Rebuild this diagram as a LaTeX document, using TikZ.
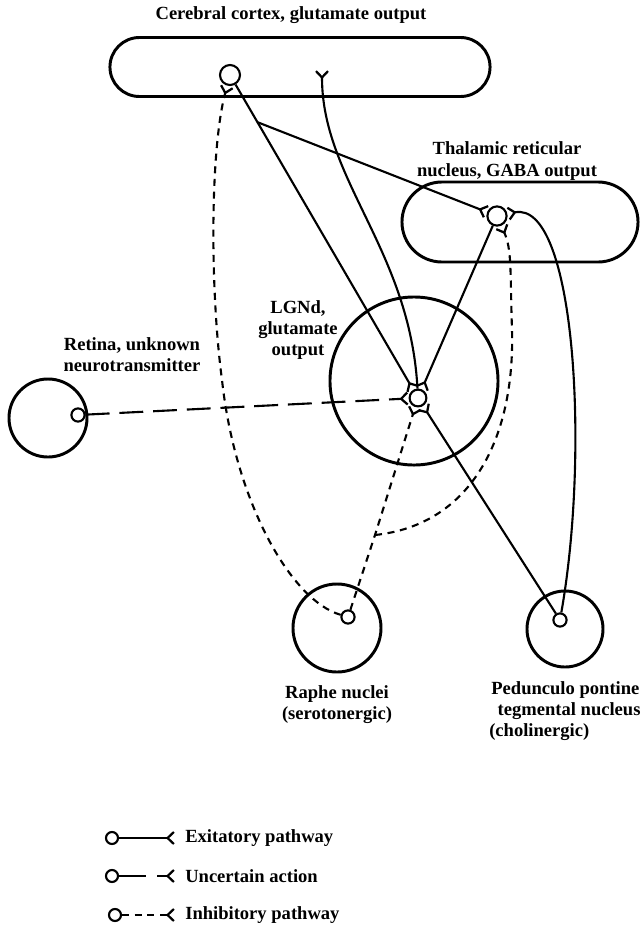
\documentclass[tikz,border=0pt]{standalone}
\usepackage{fontspec}
\setmainfont{Liberation Serif}
\usetikzlibrary{arrows.meta}
\usetikzlibrary{shapes.misc}
\usetikzlibrary{positioning}
\tikzset{area/.style={draw, line width=2.1pt, inner sep=0pt}}
\tikzset{nucleus/.style={area, circle}}
\tikzset{band/.style={area, rounded rectangle}}
\tikzset{cell/.style={circle, draw, line width=1.5pt, fill=white, inner sep=0pt, minimum size=#1}}
\tikzset{lbl/.style={font=\fontsize{13.2}{15}\selectfont\bfseries, align=center, inner sep=0pt}}
\tikzset{exc/.style={line width=1.5pt, -{Straight Barb[reversed,length=4.5pt,width=8.5pt,line width=1.6pt]}}}
\tikzset{unc/.style={exc, dash pattern=on 17pt off 7pt}}
\tikzset{inh/.style={exc, dash pattern=on 5pt off 4pt}}

\begin{document}
\begin{tikzpicture}[x=0.025cm, y=-0.025cm]
\useasboundingbox (0,0) rectangle (640,929);

% regions
\node[band, minimum width=9.5cm, minimum height=1.475cm] (cortex) at (300,67) {};
\node[band, minimum width=5.9cm, minimum height=2cm] (trn) at (520,222) {};
\node[nucleus, minimum size=4.2cm] (lgn) at (414,381) {};
\node[nucleus, minimum size=1.95cm] (retina) at (48,418) {};
\node[nucleus, minimum size=2.2cm] (raphe) at (337,628) {};
\node[nucleus, minimum size=1.9cm] (ppt) at (565,629) {};

% labels
\node[lbl] (cortexlbl) at (291,15) {Cerebral cortex, glutamate output};
\node[lbl] (trnlbl) at (507,161) {Thalamic reticular\\nucleus, GABA output};
\node[lbl] (lgnlbl) at (298,330) {LGNd,\\glutamate\\output};
\node[lbl] (retinalbl) at (132,355) {Retina, unknown\\neurotransmitter};
\node[lbl] (raphelbl) [below=3mm of raphe] {Raphe nuclei\\(serotonergic)};
\node[lbl, align=left, anchor=north west] (pptlbl) at (489,681) {\hspace{1.5pt}Pedunculo pontine\\\hspace{6pt}tegmental nucleus\\(cholinergic)};

% cells
\node[cell=0.5cm] (ctxcell) at (230,75) {};
\node[cell=0.48cm] (trncell) at (497,216) {};
\node[cell=0.42cm] (lgncell) at (418,398) {};
\node[cell=0.33cm] (retinacell) at (78,415) {};
\node[cell=0.33cm] (raphecell) at (348,617) {};
\node[cell=0.33cm] (pptcell) at (560,620) {};
\coordinate (ctxin) at (322,70);
\coordinate (ctxbranch) at (257,122);
\coordinate (raphebranch) at (375,535);

% pathways
\draw[exc] (ctxcell) -- (lgncell);
\draw[exc] (ctxbranch) -- (trncell);
\draw[exc] (lgncell) .. controls (410,250) and (322,180) .. (ctxin);
\draw[exc] (trncell) -- (lgncell);
\draw[exc] (pptcell) -- (lgncell);
\draw[exc] (pptcell) .. controls (590,450) and (575,200) .. (trncell);
\draw[unc] (retinacell) -- (lgncell);
\draw[inh] (raphecell) -- (raphebranch) -- (lgncell);
\draw[inh] (raphebranch) .. controls (470,525) and (515,440) .. (512,330)
   .. controls (510,270) and (512,250) .. (trncell);
\draw[inh] (raphecell) .. controls (290,600) and (235,500) .. (222,380)
   .. controls (210,290) and (210,150) .. (ctxcell);

% legend
\node[cell=0.3cm] (exccell) at (112,838) {};
\coordinate (excend) at (175,838);
\node[lbl, right=2.5mm of excend] (exclbl) {Exitatory pathway};
\node[cell=0.3cm] (unccell) at (112,876) {};
\coordinate (uncend) at (175,876);
\node[lbl, right=2.5mm of uncend] (unclbl) {Uncertain action};
\node[cell=0.3cm] (inhcell) at (115,915) {};
\coordinate (inhend) at (175,915);
\node[lbl, right=2.5mm of inhend] (inhlbl) {Inhibitory pathway};
\draw[exc] (exccell) -- (excend);
\draw[exc, dash pattern=on 19pt off 8pt] (unccell) -- (uncend);
\draw[inh] (inhcell) -- (inhend);
\end{tikzpicture}
\end{document}
